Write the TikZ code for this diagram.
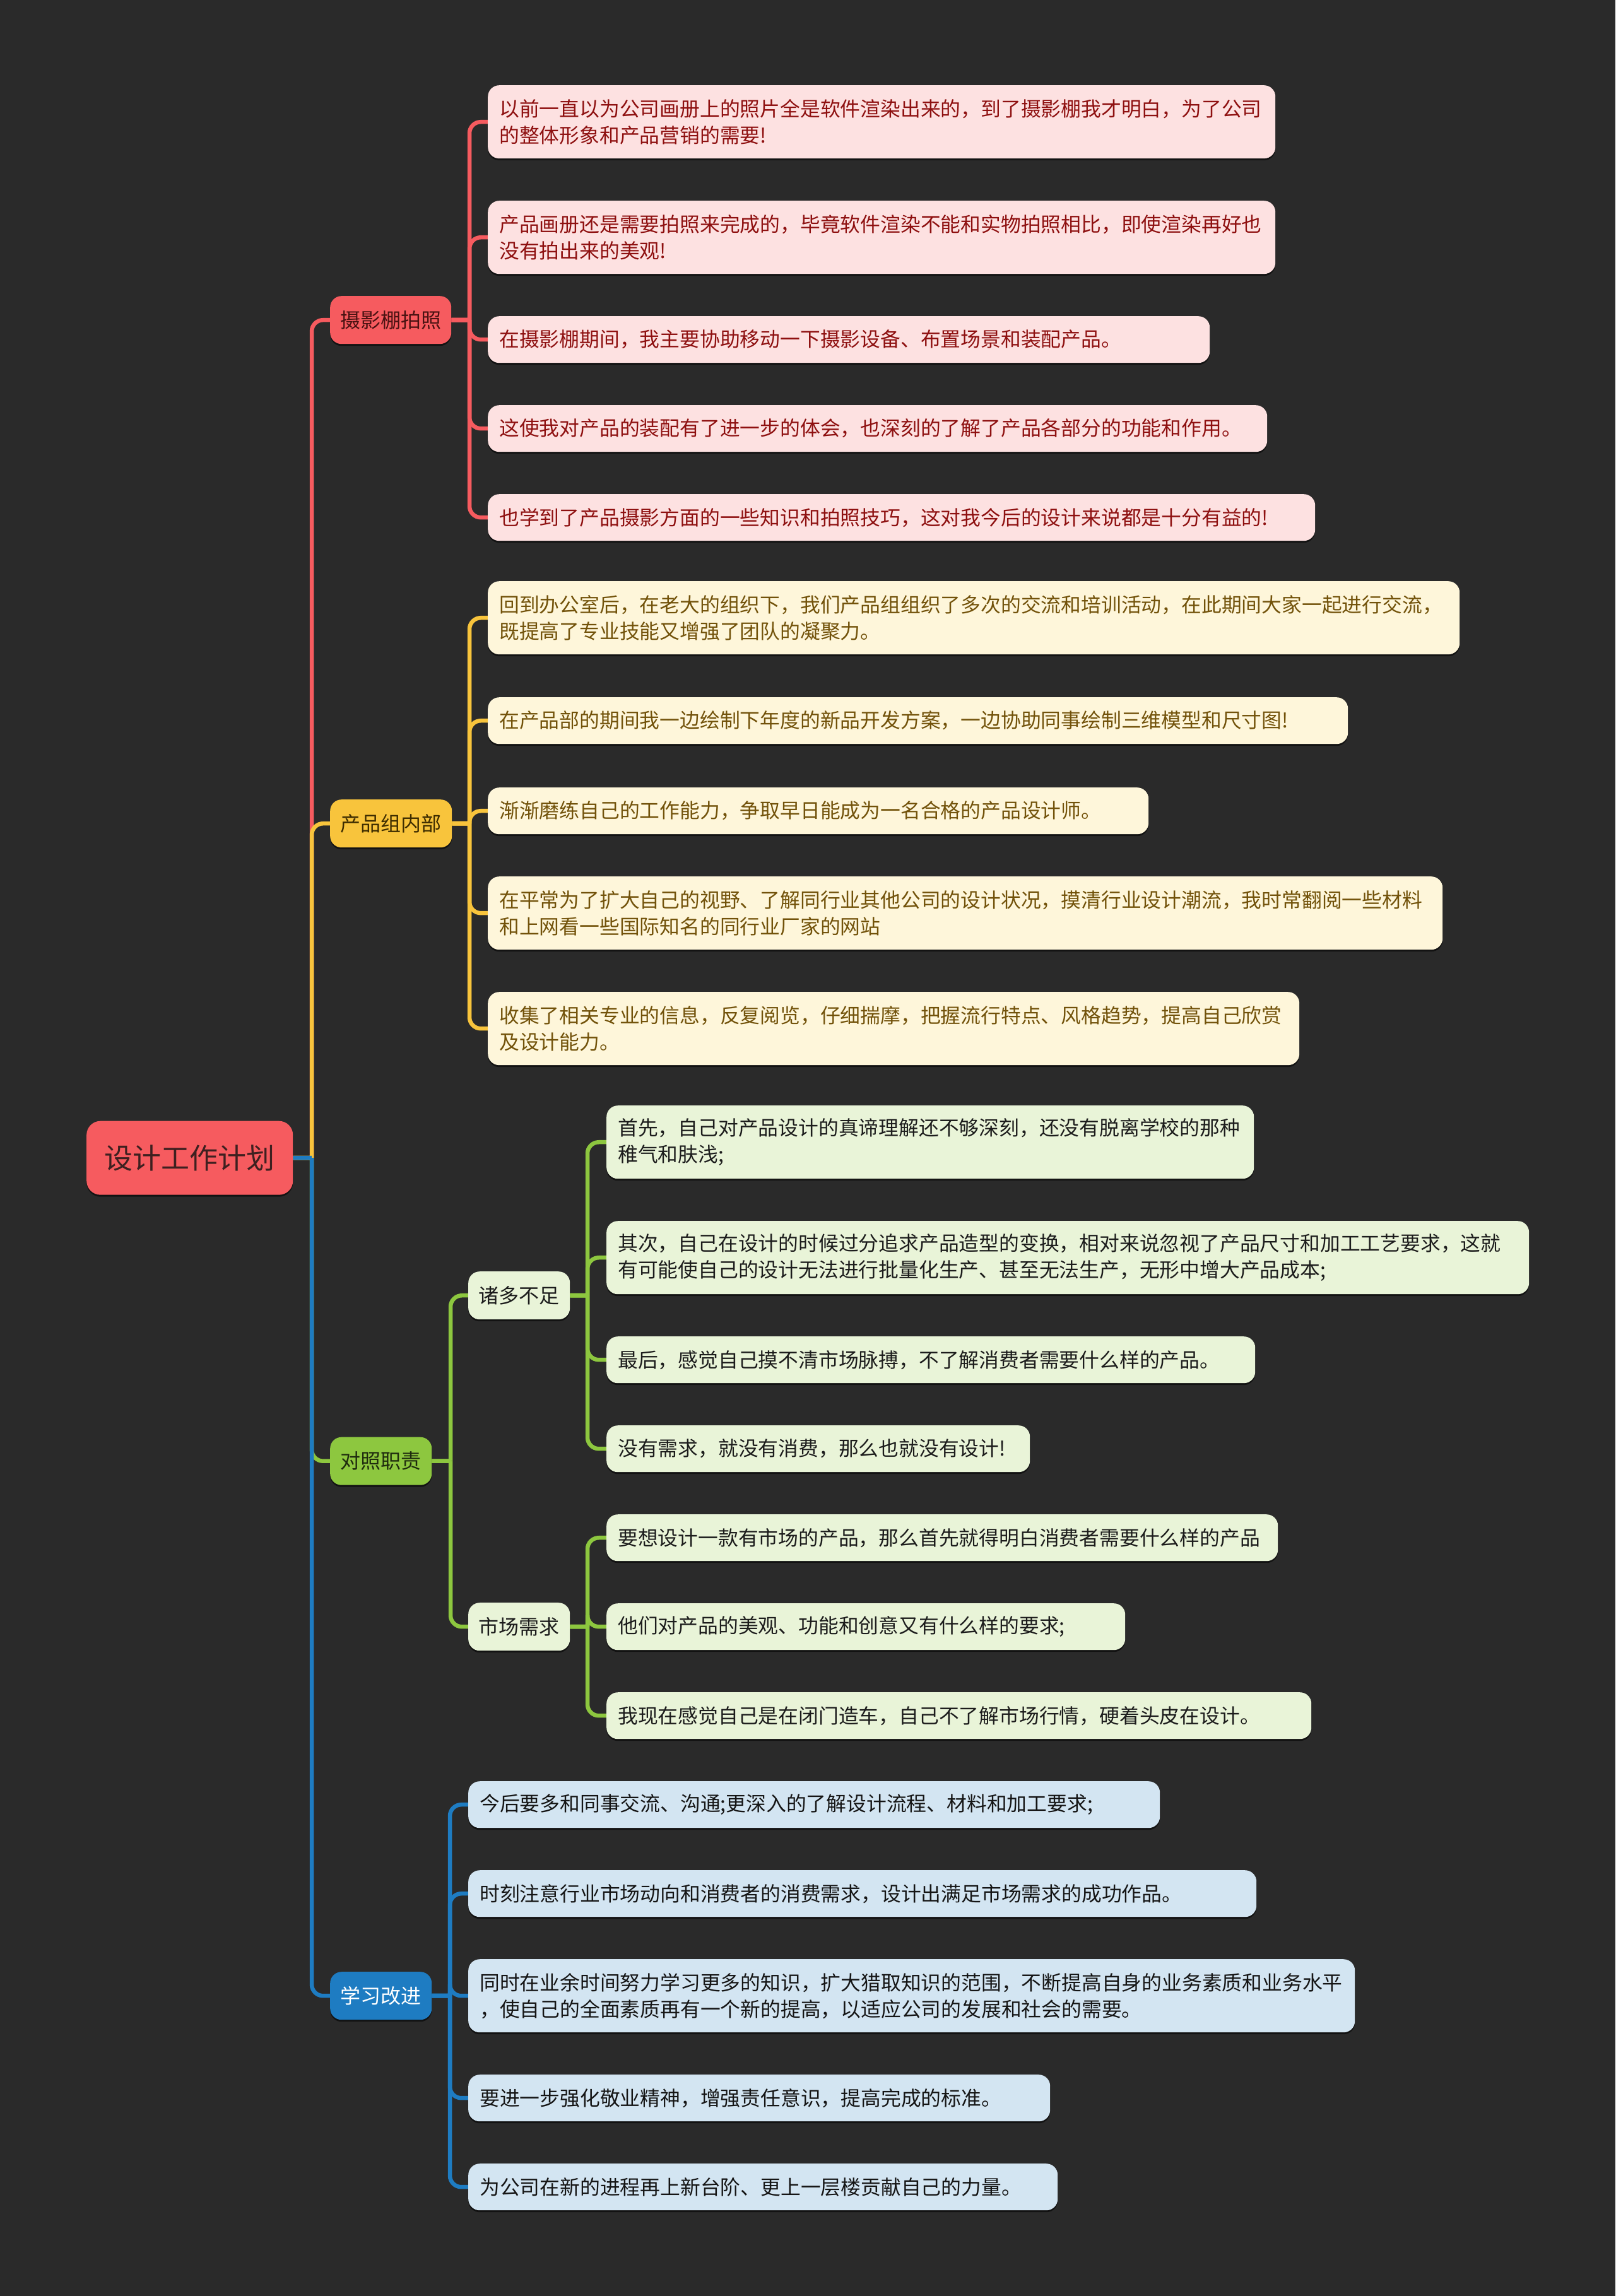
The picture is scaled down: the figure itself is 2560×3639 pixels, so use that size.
\documentclass[tikz,border=0pt]{standalone}
\usepackage{fontspec}
\setmainfont{Noto Sans CJK SC}
\usetikzlibrary{shadows}
\definecolor{bgc}{HTML}{2A2A2A}
\definecolor{redA}{HTML}{F65B5F}
\definecolor{redT}{HTML}{4A1212}
\definecolor{redL}{HTML}{FDE1E1}
\definecolor{redLT}{HTML}{8E1010}
\definecolor{yelA}{HTML}{F8C43C}
\definecolor{yelT}{HTML}{3D2C00}
\definecolor{yelL}{HTML}{FEF6DA}
\definecolor{yelLT}{HTML}{72520A}
\definecolor{grnA}{HTML}{8DC73F}
\definecolor{grnT}{HTML}{1E2B0E}
\definecolor{grnL}{HTML}{E9F4D8}
\definecolor{grnLT}{HTML}{1C1C1C}
\definecolor{bluA}{HTML}{1E7CC2}
\definecolor{bluL}{HTML}{D3E5F2}
\definecolor{bluLT}{HTML}{151515}
\definecolor{rootT}{HTML}{3E2020}
\pgfdeclarelayer{bglayer}
\pgfdeclarelayer{lines}
\pgfsetlayers{bglayer,lines,main}
\newcommand\leaffont{\fontsize{31.8}{42}\selectfont}
\newcommand\branchfont{\fontsize{32}{40}\selectfont}
\newcommand\rootfont{\fontsize{45}{54}\selectfont}
\newcommand\linkto[4]{\draw[#1] (#2.east) -- (#2.east -| #4) [rounded corners=18pt] (#2.east -| #4) -- (#3.west -| #4) -- (#3.west);}
\begin{document}
\begin{tikzpicture}[x=1pt,y=-1pt,
  shadowed/.style={drop shadow={shadow xshift=0pt, shadow yshift=-3pt, opacity=.55, fill=black}},
  leaf/.style={rounded corners=18pt, anchor=north west, inner xsep=18pt, inner ysep=0pt, align=left, font=\leaffont, shadowed},
  one/.style={minimum height=74pt},
  two/.style={minimum height=116pt},
  rleaf/.style={leaf, fill=redL, text=redLT},
  yleaf/.style={leaf, fill=yelL, text=yelLT},
  gleaf/.style={leaf, fill=grnL, text=grnLT},
  bleaf/.style={leaf, fill=bluL, text=bluLT},
  brbox/.style={rounded corners=18pt, anchor=north west, inner sep=0pt, minimum height=76pt, align=center, font=\branchfont, shadowed},
  rootbox/.style={rounded corners=22pt, anchor=north west, inner sep=0pt, minimum width=327pt, minimum height=117pt, fill=redA, text=rootT, font=\rootfont, shadowed},
  rl/.style={draw=redA, line width=6.5pt},
  yl/.style={draw=yelA, line width=6.5pt},
  gl/.style={draw=grnA, line width=6.5pt},
  bl/.style={draw=bluA, line width=6.5pt}
]
\begin{pgfonlayer}{bglayer}
\fill[bgc] (0,0) rectangle (2560,3639);
\end{pgfonlayer}
\useasboundingbox (0,0) rectangle (2560,3639);

% root and branches
\node[rootbox] (root) at (137,1776.5) {设计工作计划};
\node[brbox, fill=redA, text=redT, minimum width=192pt] (rb) at (523,469) {摄影棚拍照};
\node[brbox, fill=yelA, text=yelT, minimum width=193pt] (yb) at (523,1267) {产品组内部};
\node[brbox, fill=grnA, text=grnT, minimum width=161pt] (gb) at (523,2277.5) {对照职责};
\node[brbox, fill=bluA, text=white, minimum width=161pt] (bb) at (523,3125) {学习改进};
\node[brbox, fill=grnL, text=grnLT, minimum width=161pt] (gs1) at (742,2015) {诸多不足};
\node[brbox, fill=grnL, text=grnLT, minimum width=161pt] (gs2) at (742,2540) {市场需求};

% red leaves
\node[rleaf, two, text width=1212pt] (c1) at (773,135) {以前一直以为公司画册上的照片全是软件渲染出来的，到了摄影棚我才明白，为了公司\\的整体形象和产品营销的需要!};
\node[rleaf, two, text width=1212pt] (c2) at (773,318) {产品画册还是需要拍照来完成的，毕竟软件渲染不能和实物拍照相比，即使渲染再好也\\没有拍出来的美观!};
\node[rleaf, one, text width=1108pt] (c3) at (773,501) {在摄影棚期间，我主要协助移动一下摄影设备、布置场景和装配产品。};
\node[rleaf, one, text width=1199pt] (c4) at (773,642) {这使我对产品的装配有了进一步的体会，也深刻的了解了产品各部分的功能和作用。};
\node[rleaf, one, text width=1275pt] (c5) at (773,783) {也学到了产品摄影方面的一些知识和拍照技巧，这对我今后的设计来说都是十分有益的!};

% yellow leaves
\node[yleaf, two, text width=1504pt] (y1) at (773,921) {回到办公室后，在老大的组织下，我们产品组组织了多次的交流和培训活动，在此期间大家一起进行交流，\\既提高了专业技能又增强了团队的凝聚力。};
\node[yleaf, one, text width=1327pt] (y2) at (773,1105) {在产品部的期间我一边绘制下年度的新品开发方案，一边协助同事绘制三维模型和尺寸图!};
\node[yleaf, one, text width=1011pt] (y3) at (773,1248) {渐渐磨练自己的工作能力，争取早日能成为一名合格的产品设计师。};
\node[yleaf, two, text width=1477pt] (y4) at (773,1389) {在平常为了扩大自己的视野、了解同行业其他公司的设计状况，摸清行业设计潮流，我时常翻阅一些材料\\和上网看一些国际知名的同行业厂家的网站};
\node[yleaf, two, text width=1250pt] (y5) at (773,1572) {收集了相关专业的信息，反复阅览，仔细揣摩，把握流行特点、风格趋势，提高自己欣赏\\及设计能力。};

% green leaves
\node[gleaf, two, text width=990pt] (g1) at (961,1752) {首先，自己对产品设计的真谛理解还不够深刻，还没有脱离学校的那种\\稚气和肤浅;};
\node[gleaf, two, text width=1426pt] (g2) at (961,1935) {其次，自己在设计的时候过分追求产品造型的变换，相对来说忽视了产品尺寸和加工工艺要求，这就\\有可能使自己的设计无法进行批量化生产、甚至无法生产，无形中增大产品成本;};
\node[gleaf, one, text width=992pt] (g3) at (961,2118) {最后，感觉自己摸不清市场脉搏，不了解消费者需要什么样的产品。};
\node[gleaf, one, text width=635pt] (g4) at (961,2259) {没有需求，就没有消费，那么也就没有设计!};
\node[gleaf, one, text width=1028pt] (g5) at (961,2400) {要想设计一款有市场的产品，那么首先就得明白消费者需要什么样的产品};
\node[gleaf, one, text width=786pt] (g6) at (961,2541) {他们对产品的美观、功能和创意又有什么样的要求;};
\node[gleaf, one, text width=1081pt] (g7) at (961,2682) {我现在感觉自己是在闭门造车，自己不了解市场行情，硬着头皮在设计。};

% blue leaves
\node[bleaf, one, text width=1060pt] (b1) at (742,2823) {今后要多和同事交流、沟通;更深入的了解设计流程、材料和加工要求;};
\node[bleaf, one, text width=1213pt] (b2) at (742,2964) {时刻注意行业市场动向和消费者的消费需求，设计出满足市场需求的成功作品。};
\node[bleaf, two, text width=1369pt] (b3) at (742,3105) {同时在业余时间努力学习更多的知识，扩大猎取知识的范围，不断提高自身的业务素质和业务水平\\，使自己的全面素质再有一个新的提高，以适应公司的发展和社会的需要。};
\node[bleaf, one, text width=886pt] (b4) at (742,3288) {要进一步强化敬业精神，增强责任意识，提高完成的标准。};
\node[bleaf, one, text width=898pt] (b5) at (742,3429) {为公司在新的进程再上新台阶、更上一层楼贡献自己的力量。};

% trunk coordinates
\coordinate (T0) at (494,0);
\coordinate (TR) at (744,0);
\coordinate (TG) at (714,0);
\coordinate (TGs) at (931,0);
\coordinate (TB) at (713,0);

\begin{pgfonlayer}{lines}
\linkto{rl}{root}{rb}{T0}
\linkto{yl}{root}{yb}{T0}
\linkto{gl}{root}{gb}{T0}
\linkto{bl}{root}{bb}{T0}
\foreach \c in {c1,c2,c3,c4,c5}{\linkto{rl}{rb}{\c}{TR}}
\foreach \c in {y1,y2,y3,y4,y5}{\linkto{yl}{yb}{\c}{TR}}
\foreach \c in {gs1,gs2}{\linkto{gl}{gb}{\c}{TG}}
\foreach \c in {g1,g2,g3,g4}{\linkto{gl}{gs1}{\c}{TGs}}
\foreach \c in {g5,g6,g7}{\linkto{gl}{gs2}{\c}{TGs}}
\foreach \c in {b1,b2,b3,b4,b5}{\linkto{bl}{bb}{\c}{TB}}
\end{pgfonlayer}
\end{tikzpicture}
\end{document}
